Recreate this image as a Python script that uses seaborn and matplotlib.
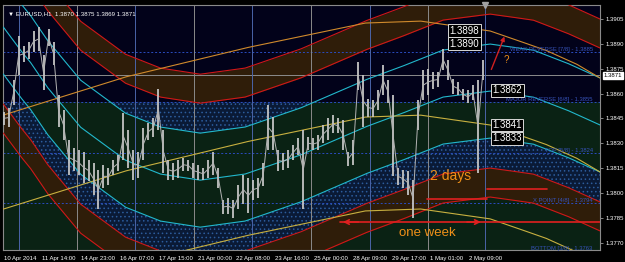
import numpy as np
import pandas as pd
import matplotlib
matplotlib.use("Agg")
import matplotlib.pyplot as plt
import matplotlib.transforms as mtransforms
import seaborn as sns

# ---------------- data ----------------
high = [1.3849, 1.3851, 1.3868, 1.3895, 1.3889, 1.3891, 1.3898, 1.3900, 1.3883, 1.3899,
        1.3891, 1.3859, 1.3850, 1.3832, 1.3827, 1.3826, 1.3825, 1.3820, 1.3818, 1.3814,
        1.3817, 1.3815, 1.3820, 1.3823, 1.3848, 1.3838, 1.3826, 1.3825, 1.3839, 1.3842,
        1.3845, 1.3863, 1.3838, 1.3820, 1.3818, 1.3820, 1.3821, 1.3820, 1.3818, 1.3817,
        1.3815, 1.3820, 1.3825, 1.3815, 1.3796, 1.3797, 1.3796, 1.3805, 1.3811, 1.3809,
        1.3808, 1.3809, 1.3818, 1.3853, 1.3846, 1.3826, 1.3824, 1.3826, 1.3829, 1.3833,
        1.3838, 1.3834, 1.3833, 1.3835, 1.3841, 1.3845, 1.3847, 1.3845, 1.3844, 1.3825,
        1.3832, 1.3879, 1.3871, 1.3857, 1.3856, 1.3862, 1.3877, 1.3868, 1.3859, 1.3815,
        1.3814, 1.3813, 1.3808, 1.3856, 1.3874, 1.3875, 1.3873, 1.3873, 1.3887, 1.3880,
        1.3869, 1.3867, 1.3863, 1.3862, 1.3865, 1.3868, 1.3880]
low = [1.3841, 1.3840, 1.3853, 1.3871, 1.3879, 1.3881, 1.3885, 1.3886, 1.3862, 1.3889,
       1.3877, 1.3840, 1.3832, 1.3811, 1.3813, 1.3811, 1.3806, 1.3807, 1.3799, 1.3790,
       1.3803, 1.3805, 1.3811, 1.3813, 1.3820, 1.3815, 1.3808, 1.3809, 1.3820, 1.3832,
       1.3834, 1.3838, 1.3812, 1.3808, 1.3808, 1.3809, 1.3813, 1.3813, 1.3809, 1.3808,
       1.3808, 1.3809, 1.3811, 1.3803, 1.3787, 1.3787, 1.3785, 1.3790, 1.3793, 1.3788,
       1.3796, 1.3797, 1.3804, 1.3826, 1.3826, 1.3813, 1.3814, 1.3815, 1.3820, 1.3823,
       1.3790, 1.3826, 1.3826, 1.3826, 1.3830, 1.3832, 1.3836, 1.3836, 1.3826, 1.3816,
       1.3817, 1.3862, 1.3840, 1.3846, 1.3846, 1.3850, 1.3859, 1.3854, 1.3810, 1.3805,
       1.3803, 1.3799, 1.3785, 1.3838, 1.3856, 1.3859, 1.3863, 1.3864, 1.3874, 1.3868,
       1.3860, 1.3859, 1.3856, 1.3854, 1.3856, 1.3812, 1.3868]
bars_per_step = 4.12

x_tick_labels = ["10 Apr 2014", "11 Apr 14:00", "14 Apr 23:00", "16 Apr 07:00",
                 "17 Apr 15:00", "21 Apr 00:00", "22 Apr 08:00", "23 Apr 16:00",
                 "25 Apr 00:00", "28 Apr 09:00", "29 Apr 17:00", "1 May 01:00",
                 "2 May 09:00"]
y_ticks = [1.3770, 1.3785, 1.3800, 1.3815, 1.3830, 1.3845, 1.3860, 1.3875, 1.3890, 1.3905]
current_price = 1.3871
title_text = "EURUSD,H1  1.3870 1.3875 1.3869 1.3871"

murrey_levels = [1.3885, 1.3855, 1.3824, 1.3794]
murrey_names = ["WEAK REVERSE [7/8] - 1.3885", "MAJOR REVERSE [6/8] - 1.3855",
                "TOP [5/8] - 1.3824", "X POINT [4/8] - 1.3794"]
bottom_level = 1.3763
bottom_name = "BOTTOM [3/8] - 1.3763"

# cycle wave (cyan / red family) control points
wave_bars = [-0.25, 13.8, 22.0, 36.0, 63.3, 100.4, 129.2, 162.2, 199.3, 244.7, 298.3,
             327.2, 362.6, 401.4, 436.8, 464.9, 492.1]
wave_base = [1.39286, 1.39147, 1.39074, 1.38923, 1.38682, 1.38482, 1.38398, 1.38361,
             1.38398, 1.38512, 1.38682, 1.38760, 1.38863, 1.38899, 1.38863, 1.38784,
             1.38694]
cyan_offsets = [0.0, -0.00284, -0.00568]
red_offsets = {"A1": 0.00356, "A0": 0.00181, "B0": -0.00749, "B1": -0.00924}

# trend wave (yellow family) control points
trend_bars = [-0.25, 100.4, 199.3, 298.3, 343.7, 401.4, 446.8, 472.4, 492.1]
trend_base = [1.38470, 1.38700, 1.38875, 1.39026, 1.39038, 1.38978, 1.38863,
              1.38779, 1.38694]
trend_offsets = [0.0, -0.00568, -0.01135]

label_values_a = [1.3898, 1.3890]
label_values_b = [1.3862, 1.3841, 1.3833]

separator_bars = [13.0, 60.8, 108.7, 157.3, 205.1, 253.8, 302.4, 350.3, 397.3]

# ---------------- style ----------------
sns.set_style("dark")
plt.rcParams["font.family"] = ["Liberation Sans", "DejaVu Sans"]
plt.rcParams["hatch.linewidth"] = 0.6

W, H = 625, 262
fig = plt.figure(figsize=(W / 100, H / 100), dpi=100, facecolor="black")
ax = fig.add_axes([3 / W, 1 - 250 / H, 597 / W, 245 / H])
ax.set_facecolor("#02021a")

x_lo, x_hi = -0.5, 492.0
y_lo, y_hi = 1.37655, 1.39135
ax.set_xlim(x_lo, x_hi)
ax.set_ylim(y_lo, y_hi)

xs = np.linspace(x_lo, x_hi, 800)
base = np.interp(xs, wave_bars, wave_base)
tbase = np.interp(xs, trend_bars, trend_base)

GREEN = "#0a2214"
BROWN = "#2f1d09"
RED = "#d01818"
CYAN = "#22b8cc"

ax.axhspan(y_lo, murrey_levels[1], color=GREEN, zorder=0, lw=0)

zone_top = murrey_levels[1]
A1 = base + red_offsets["A1"]
A0 = base + red_offsets["A0"]
C1 = base + cyan_offsets[0]
C3 = base + cyan_offsets[2]
B0 = base + red_offsets["B0"]
B1 = base + red_offsets["B1"]
for upper, lower in [(A0, C1), (C3, B0)]:
    up = np.minimum(upper, zone_top)
    ax.fill_between(xs, lower, up, where=up > lower, facecolor="#0a1a36",
                    edgecolor="#2c5c9c", hatch="....", linewidth=0, zorder=1)

ax.fill_between(xs, A0, A1, facecolor=BROWN, linewidth=0, zorder=1)
ax.fill_between(xs, B1, B0, facecolor=BROWN, linewidth=0, zorder=1)

for lv in murrey_levels:
    ax.axhline(lv, color="#2a4cc0", lw=0.7, ls=(0, (2, 2)), zorder=2)
ax.axhline(current_price, color="#8c8c8c", lw=0.7, zorder=2)

for i, b in enumerate(separator_bars):
    col = "#4a64a8" if i % 2 == 0 else "#8a8a8a"
    ax.axvline(b, color=col, lw=0.7, zorder=2)

rows = []
for k, off in enumerate(cyan_offsets):
    rows.append(pd.DataFrame({"bar": xs, "price": base + off, "curve": f"c{k}"}))
for name, off in red_offsets.items():
    rows.append(pd.DataFrame({"bar": xs, "price": base + off, "curve": name}))
for k, off in enumerate(trend_offsets):
    rows.append(pd.DataFrame({"bar": xs, "price": tbase + off, "curve": f"y{k}"}))
curves = pd.concat(rows, ignore_index=True)
palette = {"c0": CYAN, "c1": CYAN, "c2": CYAN,
           "A1": RED, "A0": RED, "B0": RED, "B1": RED,
           "y0": "#d08a2c", "y1": "#c8b040", "y2": "#c8b040"}
sns.lineplot(data=curves, x="bar", y="price", hue="curve", palette=palette,
             estimator=None, sort=False, legend=False, lw=0.8, ax=ax, zorder=3)

# price bars
bar_x = np.arange(len(high)) * bars_per_step
ax.vlines(bar_x, low, high, color="#c4c4c4", lw=1.3, zorder=4)
mid = (np.array(high) + np.array(low)) / 2
ax.plot(bar_x, mid, color="#b4b4b4", lw=0.7, zorder=4)

box = dict(boxstyle="square,pad=0.15", fc="black", ec="#d8d8d8", lw=0.7)
for v in label_values_a:
    ax.text(380, v, f"{v:.4f}", color="white", fontsize=7, ha="center",
            va="center", bbox=box, zorder=6)
for v in label_values_b:
    ax.text(415.5, v, f"{v:.4f}", color="white", fontsize=7, ha="center",
            va="center", bbox=box, zorder=6)

for lv, nm in zip(murrey_levels, murrey_names):
    ax.text(486, lv, nm, color="#3652b8", fontsize=4.2, ha="right", va="bottom",
            zorder=5)
ax.text(486, bottom_level + 0.0002, bottom_name, color="#3652b8", fontsize=4.2,
        ha="right", va="bottom", zorder=5)

ax.annotate("", xy=(414, 1.3896), xytext=(401.5, 1.3873),
            arrowprops=dict(arrowstyle="-|>", color="#d02020", lw=1.0,
                            mutation_scale=6), zorder=6)
ax.text(415, 1.3880, "?", color="#f09018", fontsize=7, ha="center", va="center",
        zorder=6)
ax.text(369, 1.3810, "2 days", color="#f09018", fontsize=10, ha="center",
        va="center", zorder=6)
ax.plot([349.4, 399.0], [1.37963, 1.37963], color="#e02020", lw=1.2, zorder=6)
ax.plot([399.0, 448.4], [1.38024, 1.38024], color="#e02020", lw=1.2, zorder=6)
ax.plot([277.7, 492.0], [1.37824, 1.37824], color="#e02020", lw=1.2, zorder=6)
ax.annotate("", xy=(277.7, 1.37824), xytext=(295, 1.37824),
            arrowprops=dict(arrowstyle="->", color="#e02020", lw=1.2,
                            mutation_scale=8), zorder=6)
ax.annotate("", xy=(396, 1.37824), xytext=(380, 1.37824),
            arrowprops=dict(arrowstyle="->", color="#e02020", lw=1.2,
                            mutation_scale=8), zorder=6)
ax.text(349.4, 1.37755, "one week", color="#f09018", fontsize=9.5, ha="center",
        va="center", zorder=6)

ax.text(0.008, 0.975, "\u25bc " + title_text, transform=ax.transAxes, color="white",
        fontsize=4.4, ha="left", va="top", zorder=7,
        family=["Liberation Sans", "DejaVu Sans"])

# chart-shift marker at top
ax.plot([separator_bars[-1]], [y_hi], marker="v", color="#a0a0a0", ms=4,
        clip_on=False, zorder=8)

ax.yaxis.tick_right()
ax.set_yticks(y_ticks)
ax.set_yticklabels([f"{t:.4f}" for t in y_ticks])
ax.set_xticks([32 * k for k in range(len(x_tick_labels))])
ax.set_xticklabels(x_tick_labels, ha="left")
ax.tick_params(axis="both", colors="#9a9a9a", labelcolor="white", labelsize=4.3,
               length=2.5, width=0.6, pad=1.5, direction="out")
ax.tick_params(axis="x", pad=2)
for s in ax.spines.values():
    s.set_color("#8a8a8a")
    s.set_linewidth(0.8)
ax.set_xlabel("")
ax.set_ylabel("")
ax.grid(False)

trans = mtransforms.blended_transform_factory(ax.transAxes, ax.transData)
ax.text(1.006, current_price, f"{current_price:.4f}", transform=trans, color="black",
        fontsize=4.3, ha="left", va="center",
        bbox=dict(boxstyle="square,pad=0.15", fc="white", ec="white"), zorder=8,
        clip_on=False)

fig.savefig("out.png", dpi=100, facecolor="black")
